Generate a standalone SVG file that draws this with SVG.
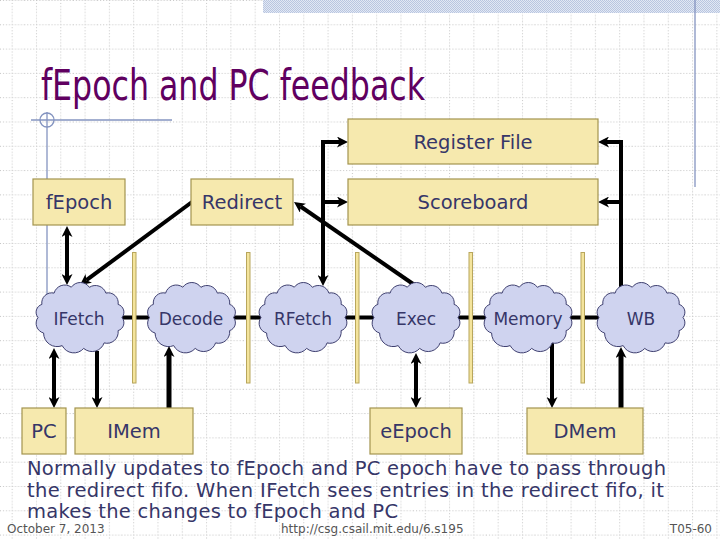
<svg xmlns="http://www.w3.org/2000/svg" width="720" height="540" viewBox="0 0 720 540">
<style>
.box{fill:#F6E9AE;stroke:#A3944F;stroke-width:1.2}
.fifo{fill:#F4E49C;stroke:#B8A65C;stroke-width:1}
.cloud{fill:#CFD3EF;stroke:#3F4070;stroke-width:1}
.lbl{font-family:'DejaVu Sans',Verdana,sans-serif;fill:#363668;text-anchor:middle}
.bl{font-size:19.5px}
.cl{font-size:17px}
#connectors path{fill:none;stroke:#000;stroke-width:4}
.foot{font-family:'DejaVu Sans',Verdana,sans-serif;font-size:12px;fill:#555}
.body{font-family:'DejaVu Sans',Verdana,sans-serif;font-size:19.5px;fill:#363668}
.deco{stroke:#8494C0;stroke-width:1.3;fill:none}
</style>
<defs>
<pattern id="grid" patternUnits="userSpaceOnUse" x="0" y="0" width="24.3" height="24.3">
<path d="M0,0.5 H24.3 M12.2,0 V24.3" stroke="#C4C4C4" stroke-width="1" stroke-dasharray="1 2" fill="none"/>
</pattern>
<pattern id="hatch" patternUnits="userSpaceOnUse" width="2" height="2">
<rect width="2" height="2" fill="#E2E8F4"/>
<rect width="1" height="1" fill="#B9C6E0"/>
<rect x="1" y="1" width="1" height="1" fill="#B9C6E0"/>
</pattern>
<marker id="arr" viewBox="0 0 11 11" markerWidth="11" markerHeight="11" markerUnits="userSpaceOnUse" refX="3" refY="5.5" orient="auto-start-reverse">
<path d="M0,0 L11,5.5 L0,11 L3,5.5 Z" fill="#000"/>
</marker>
<path id="cloud" d="M-42,0 A8.2,8.2 0 0 1 -38.1,-13.1 A10,10 0 0 1 -25.9,-24.4 A11,11 0 0 1 -8.7,-30.3 A11,11 0 0 1 9.4,-30.2 A11,11 0 0 1 25.9,-24.4 A10,10 0 0 1 38.1,-13.1 A8.2,8.2 0 0 1 42,0 A8.2,8.2 0 0 1 38.1,13.1 A11.2,11.2 0 0 1 24.1,25.4 A12.7,12.7 0 0 1 3.7,30.9 A13,13 0 0 1 -17.8,28.1 A13.5,13.5 0 0 1 -36.4,15.5 A10,10 0 0 1 -42,0 Z"/>
</defs>

<rect width="720" height="540" fill="#fff"/>
<rect width="720" height="540" fill="url(#grid)"/>

<g id="decoration">
<rect x="263" y="0" width="457" height="13" fill="url(#hatch)"/>
<line class="deco" x1="695" y1="0" x2="695" y2="187"/>
<line class="deco" x1="31" y1="120" x2="172" y2="120"/>
<line class="deco" x1="47" y1="112" x2="47" y2="300"/>
<circle class="deco" cx="47" cy="120" r="7"/>
</g>

<text id="title" x="41" y="100" font-family="'DejaVu Sans Condensed','DejaVu Sans',sans-serif" font-size="43" fill="#600060" textLength="384" lengthAdjust="spacingAndGlyphs">fEpoch and PC feedback</text>

<g id="connectors">
<path d="M80,317.5 H641"/>
<path d="M67,234 V277" marker-start="url(#arr)" marker-end="url(#arr)"/>
<path d="M192,202 L86.4,280.2" marker-end="url(#arr)"/>
<path d="M340,142 H323 V278" marker-start="url(#arr)" marker-end="url(#arr)"/>
<path d="M323,202 H340" marker-end="url(#arr)"/>
<path d="M416,286 L300.6,206.5" marker-end="url(#arr)"/>
<path d="M621,288 V142 H606" marker-end="url(#arr)"/>
<path d="M621,202 H606" marker-end="url(#arr)"/>
<path d="M54,356 V400" marker-start="url(#arr)" marker-end="url(#arr)"/>
<path d="M97,351 V400" marker-end="url(#arr)"/>
<path d="M169,408 V354" marker-end="url(#arr)" style="stroke-width:5"/>
<path d="M416,361 V400" marker-start="url(#arr)" marker-end="url(#arr)"/>
<path d="M552,343 V400" marker-end="url(#arr)"/>
<path d="M621,408 V355" marker-end="url(#arr)" style="stroke-width:5"/>
</g>

<g id="fifos">
<rect class="fifo" x="132.5" y="252.5" width="3.5" height="130.5"/>
<rect class="fifo" x="246.5" y="252.5" width="3.5" height="130.5"/>
<rect class="fifo" x="355.5" y="252.5" width="3.5" height="130.5"/>
<rect class="fifo" x="469" y="252.5" width="3.5" height="130.5"/>
<rect class="fifo" x="581" y="252.5" width="3.5" height="130.5"/>
</g>

<g id="registerfile"><rect class="box" x="348" y="119" width="250" height="45"/><text class="lbl bl" x="473" y="148.5">Register File</text></g>
<g id="scoreboard"><rect class="box" x="348" y="179" width="250" height="46"/><text class="lbl bl" x="473" y="209">Scoreboard</text></g>
<g id="fepoch"><rect class="box" x="33" y="179" width="92" height="46"/><text class="lbl bl" x="79" y="209">fEpoch</text></g>
<g id="redirect"><rect class="box" x="191" y="179" width="102" height="46"/><text class="lbl bl" x="242" y="209">Redirect</text></g>
<g id="pc"><rect class="box" x="22" y="408" width="44" height="46"/><text class="lbl bl" x="44" y="438">PC</text></g>
<g id="imem"><rect class="box" x="75" y="408" width="118" height="46"/><text class="lbl bl" x="134" y="438">IMem</text></g>
<g id="eepoch"><rect class="box" x="370" y="408" width="92" height="46"/><text class="lbl bl" x="416" y="438">eEpoch</text></g>
<g id="dmem"><rect class="box" x="527" y="408" width="116" height="46"/><text class="lbl bl" x="585" y="438">DMem</text></g>

<g id="ifetch"><use href="#cloud" class="cloud" x="80" y="317.5"/><text class="lbl cl" x="79" y="324.5">IFetch</text></g>
<g id="decode"><use href="#cloud" class="cloud" x="191.5" y="317.5"/><text class="lbl cl" x="191" y="324.5">Decode</text></g>
<g id="rfetch"><use href="#cloud" class="cloud" x="303" y="317.5"/><text class="lbl cl" x="303" y="324.5">RFetch</text></g>
<g id="exec"><use href="#cloud" class="cloud" x="416" y="317.5"/><text class="lbl cl" x="416" y="324.5">Exec</text></g>
<g id="memory"><use href="#cloud" class="cloud" x="528" y="317.5"/><text class="lbl cl" x="528" y="324.5">Memory</text></g>
<g id="wb"><use href="#cloud" class="cloud" x="641" y="317.5"/><text class="lbl cl" x="641" y="324.5">WB</text></g>

<g id="caption">
<text class="body" x="27" y="475" textLength="639">Normally updates to fEpoch and PC epoch have to pass through</text>
<text class="body" x="27" y="497" textLength="637">the redirect fifo. When IFetch sees entries in the redirect fifo, it</text>
<text class="body" x="27" y="518" textLength="371">makes the changes to fEpoch and PC</text>
</g>

<g id="footer">
<text class="foot" x="7" y="533">October 7, 2013</text>
<text class="foot" x="281" y="533">http://csg.csail.mit.edu/6.s195</text>
<text class="foot" x="712" y="533" text-anchor="end">T05-60</text>
</g>
</svg>
